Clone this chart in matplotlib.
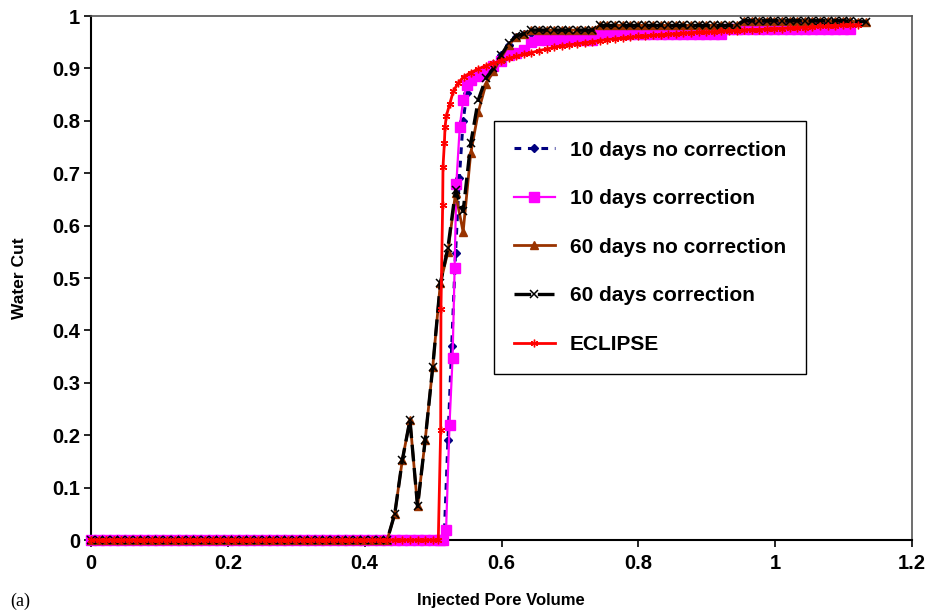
import matplotlib
matplotlib.use('Agg')
import matplotlib.pyplot as plt

# ---------------- data ----------------
# pore-volume reporting grid of the simulations
pv = [0.0, 0.0111, 0.0222, 0.0333, 0.0444, 0.0555, 0.0666, 0.0777, 0.0888, 0.0999,
      0.111, 0.1221, 0.1332, 0.1443, 0.1554, 0.1665, 0.1776, 0.1887, 0.1998, 0.2109,
      0.222, 0.2331, 0.2442, 0.2553, 0.2664, 0.2775, 0.2886, 0.2997, 0.3108, 0.3219,
      0.333, 0.3441, 0.3552, 0.3663, 0.3774, 0.3885, 0.3996, 0.4107, 0.4218, 0.4329,
      0.444, 0.4551, 0.4662, 0.4773, 0.4884, 0.4995, 0.5106, 0.5217, 0.5328, 0.5439,
      0.555, 0.5661, 0.5772, 0.5883, 0.5994, 0.6105, 0.6216, 0.6327, 0.6438, 0.6549,
      0.666, 0.6771, 0.6882, 0.6993, 0.7104, 0.7215, 0.7326, 0.7437, 0.7548, 0.7659,
      0.777, 0.7881, 0.7992, 0.8103, 0.8214, 0.8325, 0.8436, 0.8547, 0.8658, 0.8769,
      0.888, 0.8991, 0.9102, 0.9213, 0.9324, 0.9435, 0.9546, 0.9657, 0.9768, 0.9879,
      0.999, 1.0101, 1.0212, 1.0323, 1.0434, 1.0545, 1.0656, 1.0767, 1.0878, 1.0989,
      1.11, 1.1211, 1.1322]

# water cut before breakthrough (all zero)
wc_zero = [0.0, 0.0, 0.0, 0.0, 0.0, 0.0, 0.0, 0.0, 0.0, 0.0,
           0.0, 0.0, 0.0, 0.0, 0.0, 0.0, 0.0, 0.0, 0.0, 0.0,
           0.0, 0.0, 0.0, 0.0, 0.0, 0.0, 0.0, 0.0, 0.0, 0.0,
           0.0, 0.0, 0.0, 0.0, 0.0, 0.0, 0.0, 0.0, 0.0, 0.0,
           0.0, 0.0, 0.0, 0.0, 0.0, 0.0, 0.0]

# 60 days correction (from pv[40] on)
wc_60_corr_late = [0.05, 0.153, 0.229, 0.064, 0.19, 0.33, 0.49, 0.558, 0.667, 0.627,
                   0.757, 0.84, 0.881, 0.90, 0.925, 0.948, 0.962, 0.966, 0.973, 0.973,
                   0.973, 0.973, 0.973, 0.973, 0.973, 0.973, 0.973, 0.982, 0.982, 0.982,
                   0.982, 0.982, 0.982, 0.982, 0.982, 0.982, 0.982, 0.982, 0.982, 0.982,
                   0.982, 0.982, 0.982, 0.982, 0.982, 0.982, 0.991, 0.991, 0.991, 0.991,
                   0.991, 0.991, 0.991, 0.991, 0.991, 0.991, 0.991, 0.991, 0.991, 0.991,
                   0.99, 0.989, 0.989]

# 60 days no correction (from pv[40] on)
wc_60_nocorr_late = [0.05, 0.153, 0.229, 0.064, 0.19, 0.33, 0.49, 0.55, 0.662, 0.588,
                     0.738, 0.817, 0.87, 0.895, 0.92, 0.945, 0.96, 0.966, 0.973, 0.973,
                     0.973, 0.973, 0.973, 0.973, 0.973, 0.973, 0.973, 0.982, 0.982, 0.982,
                     0.982, 0.982, 0.982, 0.982, 0.982, 0.982, 0.982, 0.982, 0.982, 0.982,
                     0.982, 0.982, 0.982, 0.982, 0.982, 0.982, 0.991, 0.991, 0.991, 0.991,
                     0.991, 0.991, 0.991, 0.991, 0.991, 0.991, 0.991, 0.991, 0.991, 0.991,
                     0.99, 0.989, 0.989]

# ECLIPSE
ecl_bt_x = [0.5076, 0.5111, 0.5115, 0.514, 0.5145, 0.5165, 0.5175, 0.5195, 0.5245, 0.5295, 0.5365, 0.5445]
ecl_bt_y = [0.0, 0.21, 0.44, 0.64, 0.712, 0.757, 0.789, 0.81, 0.833, 0.856, 0.872, 0.884]
ecl_late = [0.892, 0.899, 0.905, 0.91, 0.915, 0.919, 0.923, 0.927, 0.93, 0.934,
            0.937, 0.94, 0.943, 0.945, 0.947, 0.949, 0.951, 0.953, 0.955, 0.956,
            0.958, 0.959, 0.961, 0.962, 0.963, 0.964, 0.965, 0.966, 0.967, 0.968,
            0.969, 0.969, 0.97, 0.971, 0.971, 0.972, 0.973, 0.974, 0.974, 0.975,
            0.976, 0.976, 0.977, 0.978, 0.978, 0.979, 0.98, 0.98, 0.981, 0.982,
            0.982, 0.983]

# 10 days correction
mag_bt_x = [0.5145, 0.519, 0.524, 0.5285, 0.5315, 0.534, 0.539, 0.544, 0.549]
mag_bt_y = [0.0, 0.019, 0.22, 0.348, 0.52, 0.68, 0.789, 0.84, 0.868]
mag_late = [0.878, 0.886, 0.895, 0.905, 0.915, 0.925, 0.93, 0.935, 0.95, 0.955,
            0.955, 0.955, 0.955, 0.955, 0.955, 0.955, 0.955, 0.966, 0.966, 0.966,
            0.966, 0.966, 0.966, 0.966, 0.966, 0.966, 0.966, 0.966, 0.966, 0.966,
            0.966, 0.966, 0.966, 0.966, 0.975, 0.975, 0.975, 0.975, 0.975, 0.975,
            0.975, 0.975, 0.975, 0.975, 0.975, 0.975, 0.975, 0.975, 0.975, 0.975,
            0.975]

# 10 days no correction
blue_bt_x = [0.5161, 0.5217, 0.5272, 0.5328, 0.5383, 0.5439, 0.5494]
blue_bt_y = [0.0, 0.19, 0.37, 0.548, 0.69, 0.80, 0.853]
blue_late = [0.875, 0.886, 0.895, 0.908, 0.925, 0.945, 0.96, 0.965, 0.968, 0.968,
             0.968, 0.968, 0.968, 0.968, 0.968, 0.968, 0.968, 0.976, 0.976, 0.976,
             0.976, 0.976, 0.976, 0.976, 0.976, 0.976, 0.976, 0.976, 0.976, 0.976,
             0.976, 0.976, 0.976, 0.976, 0.976, 0.976, 0.988, 0.988, 0.988, 0.988,
             0.988, 0.988, 0.988, 0.988, 0.988, 0.988, 0.988, 0.988, 0.988, 0.988,
             0.988]

labels = ["10 days no correction", "10 days correction", "60 days no correction",
          "60 days correction", "ECLIPSE"]
x_ticks = [0, 0.2, 0.4, 0.6, 0.8, 1.0, 1.2]
x_ticklabels = ["0", "0.2", "0.4", "0.6", "0.8", "1", "1.2"]
y_ticks = [0, 0.1, 0.2, 0.3, 0.4, 0.5, 0.6, 0.7, 0.8, 0.9, 1.0]
y_ticklabels = ["0", "0.1", "0.2", "0.3", "0.4", "0.5", "0.6", "0.7", "0.8", "0.9", "1"]

# ---------------- series assembly ----------------
x_blue = pv[:47] + blue_bt_x + pv[50:101]
y_blue = wc_zero[:47] + blue_bt_y + blue_late
x_mag = pv[:47] + mag_bt_x + pv[50:101]
y_mag = wc_zero[:47] + mag_bt_y + mag_late
x_60 = pv
y_60n = wc_zero[:40] + wc_60_nocorr_late
y_60c = wc_zero[:40] + wc_60_corr_late
x_ecl = pv[:46] + ecl_bt_x + pv[50:102]
y_ecl = wc_zero[:46] + ecl_bt_y + ecl_late

# ---------------- plot ----------------
FONT = 'Liberation Sans'
fig = plt.figure(figsize=(9.32, 6.15), dpi=100)
ax = fig.add_axes([91 / 932, 75 / 615, 821 / 932, 524 / 615])

ax.plot(x_blue, y_blue, color='#000080', lw=2.2, ls=(0, (2.2, 2.2)), marker='D', ms=4.5,
        mfc='#000080', mec='#000080', label=labels[0], clip_on=False, zorder=3)
ax.plot(x_mag, y_mag, color='#FF00FF', lw=1.6, marker='s', ms=6.5,
        mfc='#FF00FF', mec='#FF00FF', label=labels[1], clip_on=False, zorder=4)
ax.plot(x_60, y_60n, color='#993300', lw=2.0, marker='^', ms=6,
        mfc='#993300', mec='#993300', label=labels[2], clip_on=False, zorder=5)
ax.plot(x_60, y_60c, color='black', lw=2.4, ls=(0, (5, 2)), marker='x', ms=6, mew=1.1,
        mec='black', label=labels[3], clip_on=False, zorder=6)
ax.plot(x_ecl, y_ecl, color='#FF0000', lw=2.0, marker=(6, 2, 0), ms=5.5, mew=1.0,
        mec='#FF0000', label=labels[4], clip_on=False, zorder=7)

ax.set_xlim(0, 1.2)
ax.set_ylim(0, 1)
ax.set_xticks(x_ticks)
ax.set_xticklabels(x_ticklabels)
ax.set_yticks(y_ticks)
ax.set_yticklabels(y_ticklabels)
for t in ax.get_xticklabels() + ax.get_yticklabels():
    t.set_fontfamily(FONT)
    t.set_fontweight('bold')
    t.set_fontsize(14.5)
ax.tick_params(direction='out', length=5, width=1.2, colors='black', pad=3)
ax.tick_params(axis='x', pad=5)

for s in ['left', 'bottom']:
    ax.spines[s].set_color('black')
    ax.spines[s].set_linewidth(1.5)
for s in ['top', 'right']:
    ax.spines[s].set_color('#555555')
    ax.spines[s].set_linewidth(1.2)

leg = ax.legend(loc='upper left', bbox_to_anchor=(0.491, 0.80), frameon=True, fancybox=False,
                shadow=False, framealpha=1, edgecolor='black', borderpad=0.95,
                labelspacing=1.42, handlelength=1.95, handletextpad=0.72, borderaxespad=0,
                prop={'family': FONT, 'weight': 'bold', 'size': 15})
leg.get_frame().set_linewidth(1.0)
leg.set_zorder(10)

fig.text(501 / 932, 1 - 600 / 615, 'Injected Pore Volume', ha='center', va='center',
         fontfamily=FONT, fontweight='bold', fontsize=12)
fig.text(20 / 932, 1 - 278 / 615, 'Water Cut', ha='center', va='center', rotation=90,
         fontfamily=FONT, fontweight='bold', fontsize=12.5)
fig.text(10 / 932, 1 - 601 / 615, '(a)', ha='left', va='center',
         fontfamily='Liberation Serif', fontsize=13)

fig.savefig('out.png', dpi=100)
